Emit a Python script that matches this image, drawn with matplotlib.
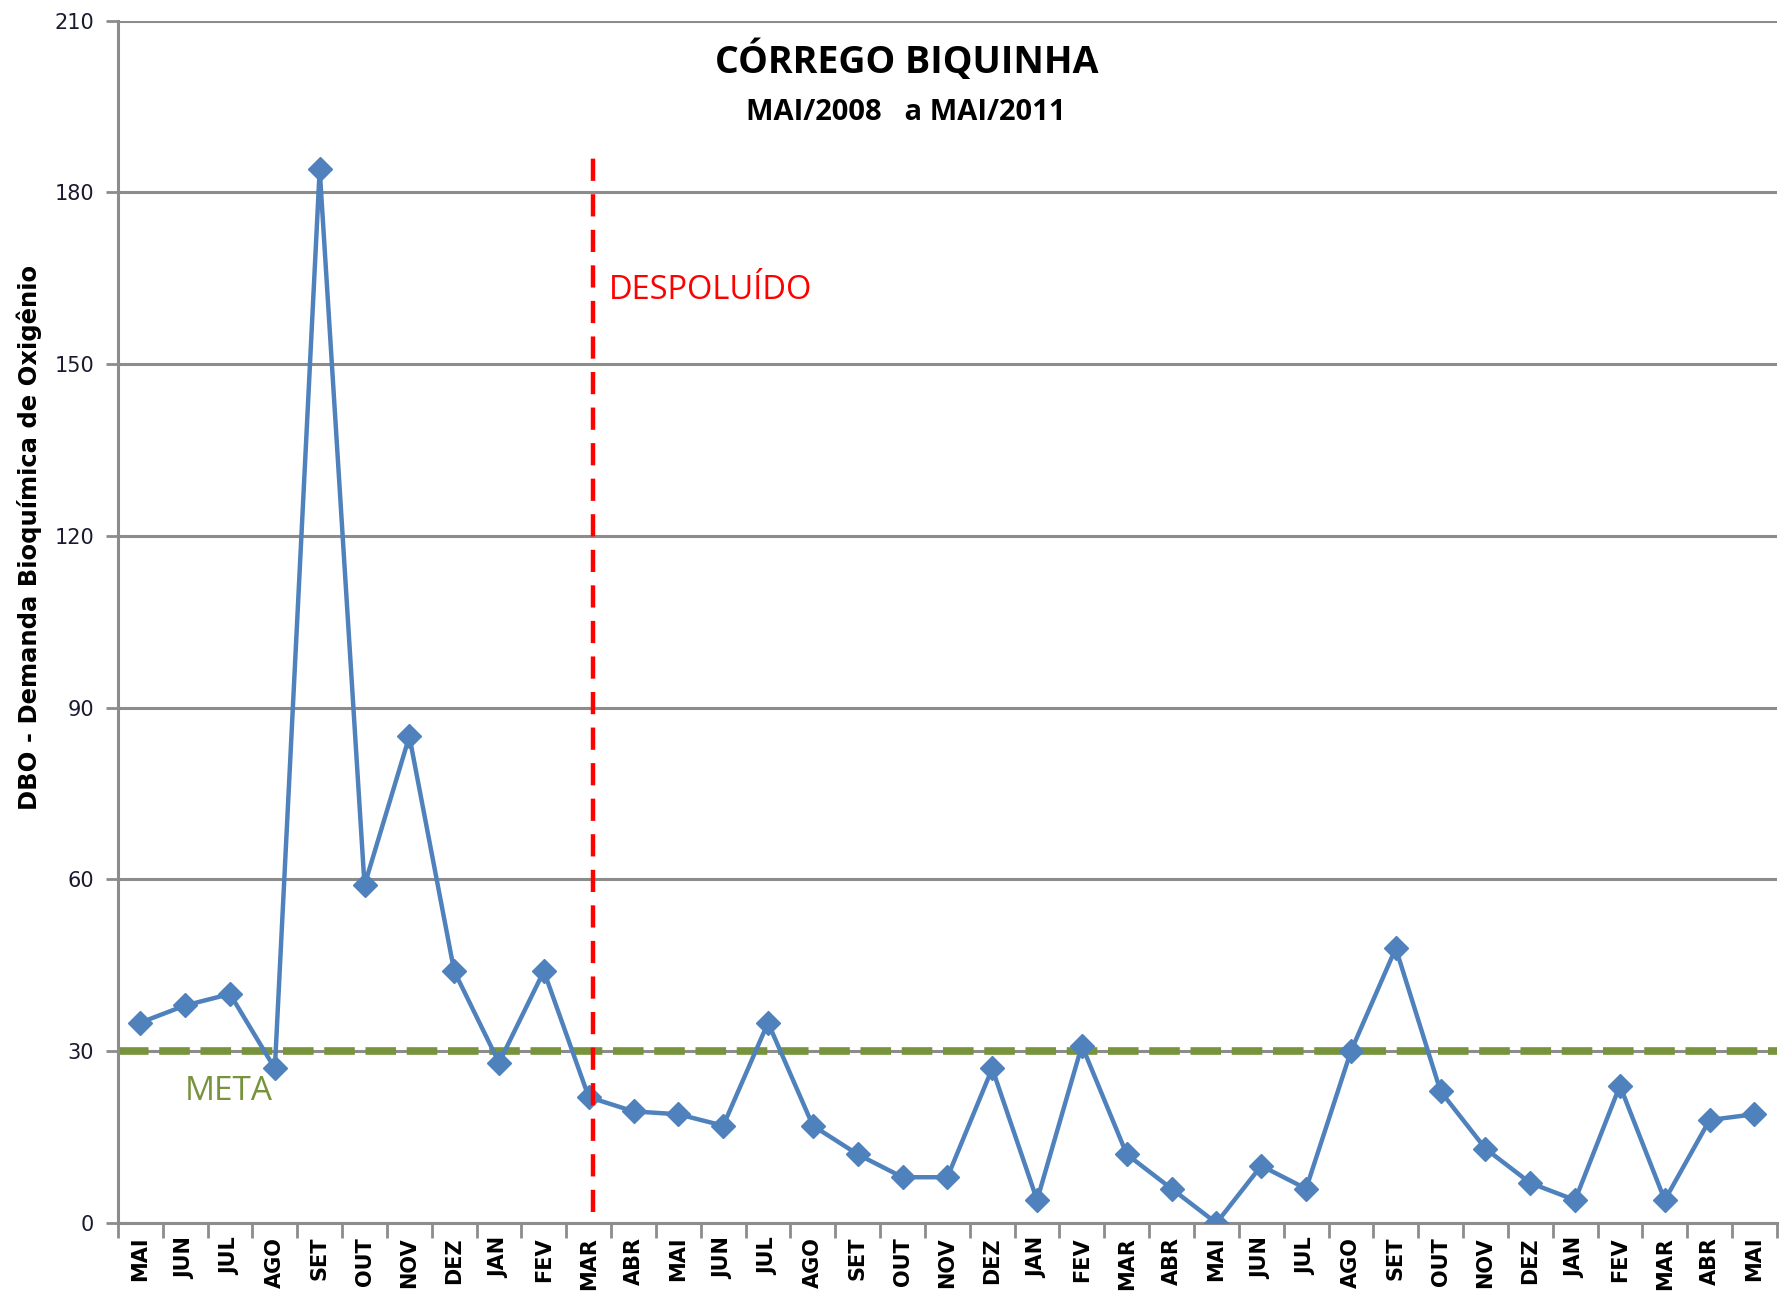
import matplotlib
matplotlib.use("Agg")
import matplotlib.pyplot as plt
import numpy as np

# months from MAI/2008 to MAI/2011
meses = ["MAI", "JUN", "JUL", "AGO", "SET", "OUT", "NOV", "DEZ",
         "JAN", "FEV", "MAR", "ABR", "MAI", "JUN", "JUL", "AGO", "SET", "OUT", "NOV", "DEZ",
         "JAN", "FEV", "MAR", "ABR", "MAI", "JUN", "JUL", "AGO", "SET", "OUT", "NOV", "DEZ",
         "JAN", "FEV", "MAR", "ABR", "MAI"]
dbo = [35, 38, 40, 27, 184, 59, 85, 44,
       28, 44, 22, 19.5, 19, 17, 35, 17, 12, 8, 8, 27,
       4, 31, 12, 6, 0, 10, 6, 30, 48, 23, 13, 7,
       4, 24, 4, 18, 19]
meta = 30
despoluido_x = 10.1
despoluido_y = [2, 186]

x = np.arange(len(meses))

fig = plt.figure(figsize=(17.84, 12.93), dpi=100)
ax = fig.add_axes([0.0661, 0.0541, 0.9299, 0.93])

# gridlines
ax.set_ylim(0, 210)
ax.set_xlim(-0.5, len(meses) - 0.5)
ax.set_yticks(np.arange(0, 211, 30))
ax.yaxis.grid(True, color="#8c8c8c", linewidth=2.2)
ax.set_axisbelow(True)

# meta line
ax.axhline(meta, color="#77933C", linewidth=5.5, linestyle=(0, (4, 1.4)), zorder=2)

# data
ax.plot(x, dbo, color="#4F81BD", linewidth=3.2, marker="D", markersize=12,
        markerfacecolor="#4F81BD", markeredgecolor="#4F81BD", zorder=3)

# despoluido line
ax.plot([despoluido_x, despoluido_x], despoluido_y, color="#FF0000",
        linewidth=3.2, linestyle=(0, (5, 3)), zorder=4)

ax.text(10.45, 162.8, "DESPOLUÍDO", color="#FF0000", fontsize=23.5,
        family="Open Sans", va="center", ha="left")
ax.text(1.0, 23.0, "META", color="#77933C", fontsize=24,
        family="Open Sans", va="center", ha="left")

# title
fig.text(0.508, 0.953, "CÓRREGO BIQUINHA", ha="center", va="center",
         fontsize=27, fontweight="bold", family="Open Sans")
fig.text(0.508, 0.913, "MAI/2008   a MAI/2011", ha="center", va="center",
         fontsize=21, fontweight="bold", family="Open Sans")

# axes styling
for s in ["top", "right"]:
    ax.spines[s].set_visible(False)
for s in ["left", "bottom"]:
    ax.spines[s].set_color("#8c8c8c")
    ax.spines[s].set_linewidth(2.2)

ax.set_xticks(x)
ax.set_xticklabels(meses, rotation=90, fontsize=15, fontweight="bold")
ax.xaxis.set_tick_params(length=0, pad=10)
ax.set_xticks(np.arange(-0.5, len(meses), 1), minor=True)
ax.tick_params(axis="x", which="minor", length=11, width=2, color="#8c8c8c")
ax.tick_params(axis="y", length=9, width=2, color="#8c8c8c", labelsize=15,
               labelcolor="#1a1a2e", pad=8)

ax.set_ylabel("DBO - Demanda Bioquímica de Oxigênio", fontsize=17.5,
              fontweight="bold")
ax.yaxis.set_label_coords(-0.0455, 0.57)

fig.savefig("out.png", dpi=100)
